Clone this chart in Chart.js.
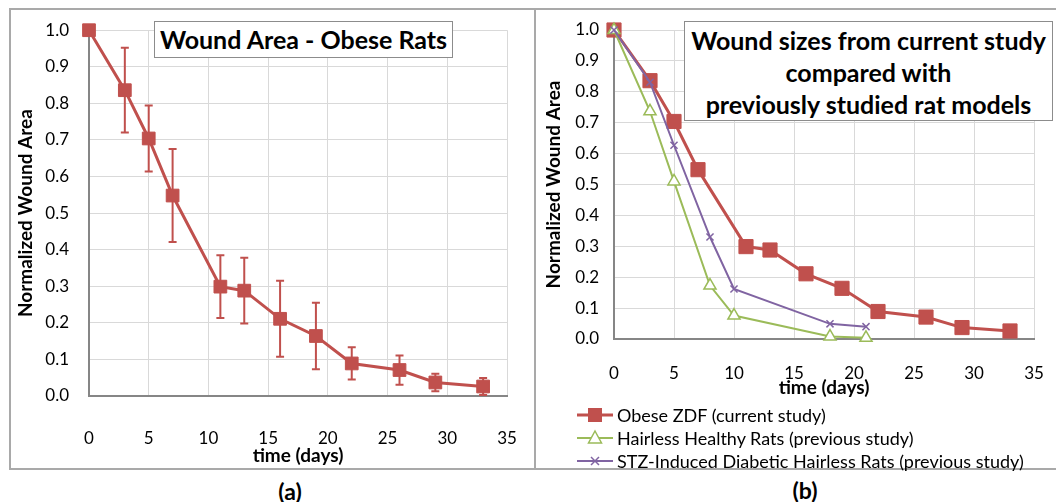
<!DOCTYPE html>
<html lang="en">
<head>
<meta charset="UTF-8">
<title>Wound Area</title>
<style>
  body {
    margin: 0;
    width: 1056px;
    height: 502px;
    overflow: hidden;
    position: relative;
    background: #fff;
    font-family: Lato, 'Open Sans', sans-serif;
    color: #000;
  }
  .panel {
    position: absolute;
    box-sizing: border-box;
    border: 2px solid #a9a9a9;
  }
  canvas {
    position: absolute;
    top: 0;
  }
  .title-box {
    position: absolute;
    box-sizing: border-box;
    background: #fff;
    border: 1px solid #8c8c8c;
    font-weight: bold;
    font-size: 25px;
    text-align: center;
    white-space: nowrap;
    z-index: 2;
  }
  .caption {
    position: absolute;
    font-weight: bold;
    font-size: 23px;
    transform: translate(-50%, -50%);
  }
  .legend {
    position: absolute;
    left: 577px;
    top: 403px;
    font-size: 18px;
    z-index: 2;
  }
  .legend-row {
    height: 23px;
    display: flex;
    align-items: center;
    white-space: nowrap;
  }
  .legend-row svg {
    margin-right: 4px;
  }
</style>
<script src="https://cdn.jsdelivr.net/npm/chart.js"></script>
</head>
<body>
  <div class="panel" style="left:9px; top:8px; width:527px; height:462px;"></div>
  <div class="panel" style="left:534px; top:8px; width:540px; height:462px;"></div>

  <canvas id="obeseChart" width="534" height="468" style="left:0;"></canvas>
  <canvas id="compareChart" width="522" height="468" style="left:534px;"></canvas>

  <div class="title-box" style="left:154px; top:21px; width:299px; height:37px; line-height:35px;">Wound Area - Obese Rats</div>
  <div class="title-box" style="left:684px; top:21px; width:369px; height:100px; line-height:32px; padding-top:2px;">Wound sizes from current study<br>compared with<br>previously studied rat models</div>

  <div class="legend">
    <div class="legend-row">
      <svg width="36" height="20"><line x1="0" y1="10" x2="36" y2="10" stroke="#c0504d" stroke-width="3"/><rect x="11" y="3" width="14" height="14" fill="#c0504d"/></svg>
      Obese ZDF (current study)
    </div>
    <div class="legend-row">
      <svg width="36" height="20"><line x1="0" y1="10" x2="36" y2="10" stroke="#9bbb59" stroke-width="2"/><polygon points="18,3 24.5,15 11.5,15" fill="#fff" stroke="#9bbb59" stroke-width="1.5"/></svg>
      Hairless Healthy Rats (previous study)
    </div>
    <div class="legend-row">
      <svg width="36" height="20"><line x1="0" y1="10" x2="36" y2="10" stroke="#8064a2" stroke-width="2"/><path d="M14,6 L22,14 M22,6 L14,14" stroke="#8064a2" stroke-width="1.5"/></svg>
      STZ-Induced Diabetic Hairless Rats (previous study)
    </div>
  </div>

  <div class="caption" style="left:290px; top:491px;">(a)</div>
  <div class="caption" style="left:805px; top:490px;">(b)</div>

<script>
  // days measured and normalized wound area
  const obeseDays = [0, 3, 5, 7, 11, 13, 16, 19, 22, 26, 29, 33];
  const obeseArea = [1.0, 0.836, 0.704, 0.548, 0.299, 0.288, 0.211, 0.164, 0.089, 0.071, 0.037, 0.026];
  const obeseSd = [0, 0.116, 0.09, 0.127, 0.086, 0.09, 0.104, 0.091, 0.044, 0.04, 0.024, 0.023];

  const prevDays = [0, 3, 5, 8, 10, 18, 21];
  const healthyArea = [1.0, 0.737, 0.510, 0.173, 0.076, 0.008, 0.004];
  const diabeticArea = [1.0, 0.831, 0.627, 0.330, 0.162, 0.049, 0.040];

  const xTicks = [0, 5, 10, 15, 20, 25, 30, 35];
  const yTicks = [0, 0.1, 0.2, 0.3, 0.4, 0.5, 0.6, 0.7, 0.8, 0.9, 1.0];

  const RED = '#c0504d';
  const GREEN = '#9bbb59';
  const PURPLE = '#8064a2';
  const GRID = '#d9d9d9';
  const AXIS = '#868686';

  Chart.defaults.font.family = 'Lato, "Open Sans", sans-serif';
  Chart.defaults.color = '#000';

  function points(xs, ys) {
    return xs.map((x, i) => ({ x: x, y: ys[i] }));
  }

  // vertical error bars with small caps, drawn under the markers
  const errorBars = {
    id: 'errorBars',
    beforeDatasetsDraw(chart) {
      const ctx = chart.ctx;
      const x = chart.scales.x;
      const y = chart.scales.y;
      chart.data.datasets.forEach(ds => {
        if (!ds.errors) return;
        ctx.save();
        ctx.strokeStyle = ds.borderColor;
        ctx.lineWidth = 2;
        ds.data.forEach((p, j) => {
          const e = ds.errors[j];
          if (!e) return;
          const px = x.getPixelForValue(p.x);
          const top = y.getPixelForValue(p.y + e);
          const bot = y.getPixelForValue(p.y - e);
          ctx.beginPath();
          ctx.moveTo(px, top); ctx.lineTo(px, bot);
          ctx.moveTo(px - 4, top); ctx.lineTo(px + 4, top);
          ctx.moveTo(px - 4, bot); ctx.lineTo(px + 4, bot);
          ctx.stroke();
        });
        ctx.restore();
      });
    }
  };

  function scales(o) {
    return {
      x: {
        type: 'linear',
        min: 0,
        max: 35,
        afterBuildTicks: s => { s.ticks = xTicks.map(v => ({ value: v })); },
        ticks: { padding: o.xTickPad, font: { size: 17 } },
        grid: { color: GRID, drawTicks: false },
        border: { color: AXIS, width: 2 },
        title: { display: true, text: 'time (days)', font: { size: 19, weight: 'bold' }, padding: { top: 0, bottom: o.xTitlePad } },
        // fixed height, and no extra side room for the end labels
        afterFit: s => {
          s.height = o.xHeight;
          s.paddingLeft = 0;
          s.paddingRight = 0;
        }
      },
      y: {
        type: 'linear',
        min: 0,
        max: 1,
        afterBuildTicks: s => { s.ticks = yTicks.map(v => ({ value: v })); },
        ticks: { padding: o.yTickPad, font: { size: 17 }, callback: v => v.toFixed(1) },
        grid: { color: GRID, drawTicks: false },
        border: { color: AXIS, width: 2 },
        title: { display: true, text: 'Normalized Wound Area', font: { size: 19, weight: 'bold' }, padding: { top: o.yTitlePad, bottom: 0 } },
        afterFit: s => { s.width = o.yWidth; }
      }
    };
  }

  new Chart(document.getElementById('obeseChart'), {
    type: 'line',
    data: {
      datasets: [{
        label: 'Obese ZDF',
        data: points(obeseDays, obeseArea),
        errors: obeseSd,
        borderColor: RED,
        backgroundColor: RED,
        borderWidth: 3,
        pointStyle: 'rect',
        pointRadius: 9,
        pointBorderWidth: 1,
        clip: false
      }]
    },
    options: {
      responsive: false,
      animation: false,
      layout: { padding: { top: 30, right: 27, left: 0, bottom: 0 } },
      plugins: { legend: { display: false }, tooltip: { enabled: false } },
      scales: scales({ xTickPad: 32, xTitlePad: 1, xHeight: 72, yTickPad: 20, yTitlePad: 14, yWidth: 89 })
    },
    plugins: [errorBars]
  });

  new Chart(document.getElementById('compareChart'), {
    type: 'line',
    data: {
      datasets: [{
        label: 'Obese ZDF (current study)',
        data: points(obeseDays, obeseArea),
        borderColor: RED,
        backgroundColor: RED,
        borderWidth: 3,
        pointStyle: 'rect',
        pointRadius: 10,
        pointBorderWidth: 1,
        order: 3,
        clip: false
      }, {
        label: 'Hairless Healthy Rats (previous study)',
        data: points(prevDays, healthyArea),
        borderColor: GREEN,
        backgroundColor: '#fff',
        borderWidth: 2,
        pointStyle: 'triangle',
        pointRadius: 7,
        pointBorderWidth: 1.5,
        order: 2,
        clip: false
      }, {
        label: 'STZ-Induced Diabetic Hairless Rats (previous study)',
        data: points(prevDays, diabeticArea),
        borderColor: PURPLE,
        backgroundColor: PURPLE,
        borderWidth: 2,
        pointStyle: 'crossRot',
        pointRadius: 5,
        pointBorderWidth: 1.5,
        order: 1,
        clip: false
      }]
    },
    options: {
      responsive: false,
      animation: false,
      layout: { padding: { top: 30, right: 22, left: 0, bottom: 69 } },
      plugins: { legend: { display: false }, tooltip: { enabled: false } },
      scales: scales({ xTickPad: 24, xTitlePad: 0, xHeight: 60, yTickPad: 15, yTitlePad: 8, yWidth: 80 })
    }
  });
</script>
</body>
</html>
